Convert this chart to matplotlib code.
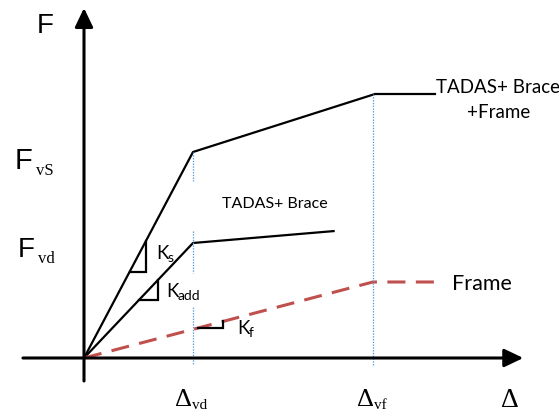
import matplotlib
matplotlib.use("Agg")
import matplotlib.pyplot as plt
import numpy as np

# Idealised force-displacement backbones (displacement in units of delta_vd)
disp_total = [0.0, 1.0, 2.67, 3.23]
force_total = [0.0, 2.06, 2.64, 2.64]

disp_brace = [0.0, 1.0, 2.30]
force_brace = [0.0, 1.15, 1.27]

disp_frame = [0.0, 2.65, 3.25]
force_frame = [0.0, 0.76, 0.76]

delta_vd = 1.0
delta_vf = 2.65

SANS = "Lato"
AXIS_FONT = "Liberation Sans"
SERIF = "Liberation Serif"
plt.rcParams["lines.scale_dashes"] = False

fig = plt.figure(figsize=(5.59, 4.12), dpi=100)
ax = fig.add_axes([0, 0, 1, 1])
ax.set_xlim(-0.7706, 4.3578)
ax.set_ylim(-0.54, 3.58)
ax.axis("off")

# Axes with arrow heads
arrow = dict(arrowstyle="-|>,head_length=1.15,head_width=0.55", lw=2.2,
             color="black", mutation_scale=10, shrinkA=0, shrinkB=0)
ax.annotate("", xy=(4.03, 0), xytext=(-0.56, 0), arrowprops=arrow)
ax.annotate("", xy=(0, 3.50), xytext=(0, -0.23), arrowprops=arrow)

# Backbone curves
ax.plot(disp_total, force_total, color="black", lw=1.6, solid_capstyle="butt")
ax.plot(disp_brace, force_brace, color="black", lw=1.6, solid_capstyle="butt")
ax.plot(disp_frame, force_frame, color="#C0504D", lw=2.2,
        dashes=(13, 7.5), solid_capstyle="butt", dash_capstyle="butt")

# Dotted guides at the yield displacements
guide = dict(color="#5B9BD5", lw=0.9, dashes=(1.0, 1.0))
ax.plot([delta_vd, delta_vd], [force_total[1], 1.77], **guide)
ax.plot([delta_vd, delta_vd], [force_brace[1] + 0.12, 0.85], **guide)
ax.plot([delta_vd, delta_vd], [0.51, -0.07], **guide)
ax.plot([delta_vf, delta_vf], [force_total[2], -0.07], **guide)


def slope_triangle(xs, ys, x_v, y_h):
    k = ys[1] / xs[1]
    x_h = y_h / k
    ax.plot([x_h, x_v, x_v], [y_h, y_h, k * x_v], color="black", lw=1.6,
            solid_joinstyle="miter")


slope_triangle(disp_total, force_total, 0.569, 0.86)
slope_triangle(disp_brace, force_brace, 0.679, 0.58)
slope_triangle(disp_frame, force_frame, 1.275, 0.30)


def label(x, y, base, sub, size, subsize, family, subfamily=None,
          ha="left", dx=0.0, dy=0.0):
    t = ax.text(x, y, base, fontsize=size, family=family, ha=ha,
                va="baseline")
    ax.annotate(sub, xy=(1, 0), xycoords=t, xytext=(dx, dy),
                textcoords="offset points", fontsize=subsize,
                family=subfamily or family, ha="left", va="baseline")
    return t


ax.text(-0.431, 3.25, "F", fontsize=20, family=AXIS_FONT, va="baseline")
label(-0.633, 1.89, "F", "vS", 21, 12, AXIS_FONT, SERIF, dx=2.5, dy=0)
label(-0.606, 1.01, "F", "vd", 20, 12, AXIS_FONT, SERIF, dx=2.5, dy=0)

label(delta_vd - 0.005, -0.475, "\u0394", "vd", 19, 11, SERIF, ha="right",
      dx=0, dy=1)
label(delta_vf + 0.015, -0.475, "\u0394", "vf", 19, 11, SERIF, ha="right",
      dx=0, dy=1)
ax.text(3.91, -0.49, "\u0394", fontsize=20, family=SERIF, ha="center",
        va="baseline")

label(0.661, 0.99, "K", "s", 13.5, 10, SANS, dx=-0.5, dy=0)
label(0.755, 0.61, "K", "add", 13.5, 10, SANS, dx=-0.5, dy=0)
label(1.405, 0.24, "K", "f", 13.5, 10, SANS, dx=-0.5, dy=0)

ax.text(3.80, 2.65, "TADAS+ Brace", fontsize=13.5, family=SANS, ha="center",
        va="baseline")
ax.text(3.80, 2.40, "+Frame", fontsize=13.5, family=SANS, ha="center",
        va="baseline")
ax.text(1.755, 1.50, "TADAS+ Brace", fontsize=11.5, family=SANS, ha="center",
        va="baseline")
ax.text(3.376, 0.68, "Frame", fontsize=15.5, family=SANS, ha="left",
        va="baseline")

fig.savefig("out.png", dpi=100)
